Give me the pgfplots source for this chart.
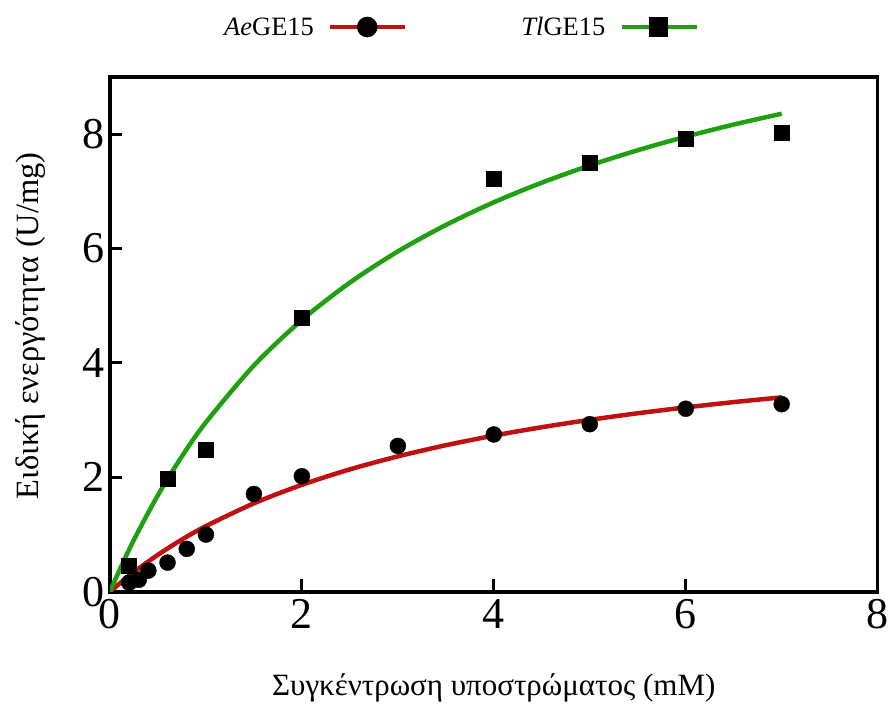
\documentclass[border=0pt]{standalone}
\usepackage{pgfplots}
\pgfplotsset{compat=1.18}
\usepackage{fontspec}
\setmainfont{Liberation Serif}
\definecolor{cred}{RGB}{192,16,16}
\definecolor{cgreen}{RGB}{30,160,16}
\begin{document}
\begin{tikzpicture}
\begin{axis}[
  scale only axis, width=768pt, height=515pt,
  xmin=0, xmax=8, ymin=0, ymax=9,
  xtick={0,2,4,6,8}, ytick={0,2,4,6,8},
  xtick pos=bottom, ytick pos=left,
  tick align=inside,
  major tick length=12pt,
  tick style={line width=3pt, draw=black},
  axis line style={line width=3.5pt},
  /pgf/number format/assume math mode=true,
  tick label style={font=\fontsize{44}{48}\selectfont},
  xticklabel style={yshift=-4pt},
  yticklabel style={xshift=-2pt},
  xlabel={Συγκέντρωση υποστρώματος (mM)},
  ylabel={Ειδική ενεργότητα (U/mg)},
  xlabel style={font=\fontsize{31}{35}\selectfont, at={(axis description cs:0.5,-0.186)}, anchor=center},
  ylabel style={font=\fontsize{32.5}{36}\selectfont, at={(axis description cs:-0.104,0.517)}, anchor=center},
  legend columns=2,
  legend plot pos=right,
  legend style={draw=none, fill=none, inner sep=0pt,
    at={(axis description cs:0.146,1.097)}, anchor=west,
    font=\fontsize{26.5}{30}\selectfont,
    /tikz/every odd column/.append style={column sep=12pt},
    /tikz/every even column/.append style={column sep=112pt}},
  legend image code/.code={\draw[#1, mark repeat=2, mark phase=2] plot coordinates {(0pt,0pt) (37pt,0pt) (75pt,0pt)};},
]
% AeGE15 fit
\addplot[cred, line width=4.5pt, smooth, no markers, forget plot] coordinates {
(0,0) (0.1,0.144) (0.25,0.346) (0.5,0.647) (0.75,0.913) (1,1.148) (1.5,1.546) (2,1.870) (2.5,2.140) (3,2.367) (3.5,2.562) (4,2.730) (4.5,2.877) (5,3.006) (5.5,3.121) (6,3.223) (6.5,3.316) (7,3.399)};
% TlGE15 fit
\addplot[cgreen, line width=4.5pt, smooth, no markers, forget plot] coordinates {
(0,0) (0.1,0.381) (0.25,0.909) (0.5,1.690) (0.75,2.368) (1,2.963) (1.5,3.956) (2,4.752) (2.5,5.405) (3,5.950) (3.5,6.412) (4,6.809) (4.5,7.152) (5,7.453) (5.5,7.719) (6,7.956) (6.5,8.168) (7,8.358)};
% AeGE15 data
\addplot[only marks, mark=*, mark size=8pt, mark options={black, fill=black}, forget plot] coordinates {
(0.2,0.16) (0.3,0.21) (0.4,0.37) (0.6,0.51) (0.8,0.75) (1,1.0) (1.5,1.71) (2,2.02) (3,2.55) (4,2.75) (5,2.93) (6,3.2) (7,3.28)};
% TlGE15 data
\addplot[only marks, mark=square*, mark size=7.5pt, mark options={black, fill=black}, forget plot] coordinates {
(0.2,0.46) (0.6,1.98) (1,2.48) (2,4.8) (4,7.23) (5,7.5) (6,7.92) (7,8.02)};
% legend entries
\addlegendimage{cred, line width=4.5pt, mark=*, mark size=8pt, mark options={black, fill=black}}
\addlegendentry{\textit{Ae}GE15}
\addlegendimage{cgreen, line width=4.5pt, mark=square*, mark size=7.5pt, mark options={black, fill=black}}
\addlegendentry{\textit{Tl}GE15}
% inward tick marks on the frame
\fill[black] (axis cs:1.984,0) rectangle (axis cs:2.016,0.22);
\fill[black] (axis cs:3.984,0) rectangle (axis cs:4.016,0.22);
\fill[black] (axis cs:5.984,0) rectangle (axis cs:6.016,0.22);
\fill[black] (axis cs:0,1.974) rectangle (axis cs:0.13,2.026);
\fill[black] (axis cs:0,3.974) rectangle (axis cs:0.13,4.026);
\fill[black] (axis cs:0,5.974) rectangle (axis cs:0.13,6.026);
\fill[black] (axis cs:0,7.974) rectangle (axis cs:0.13,8.026);
\end{axis}
\path (-110pt,-110pt) rectangle (782pt,592pt);
\end{tikzpicture}
\end{document}
